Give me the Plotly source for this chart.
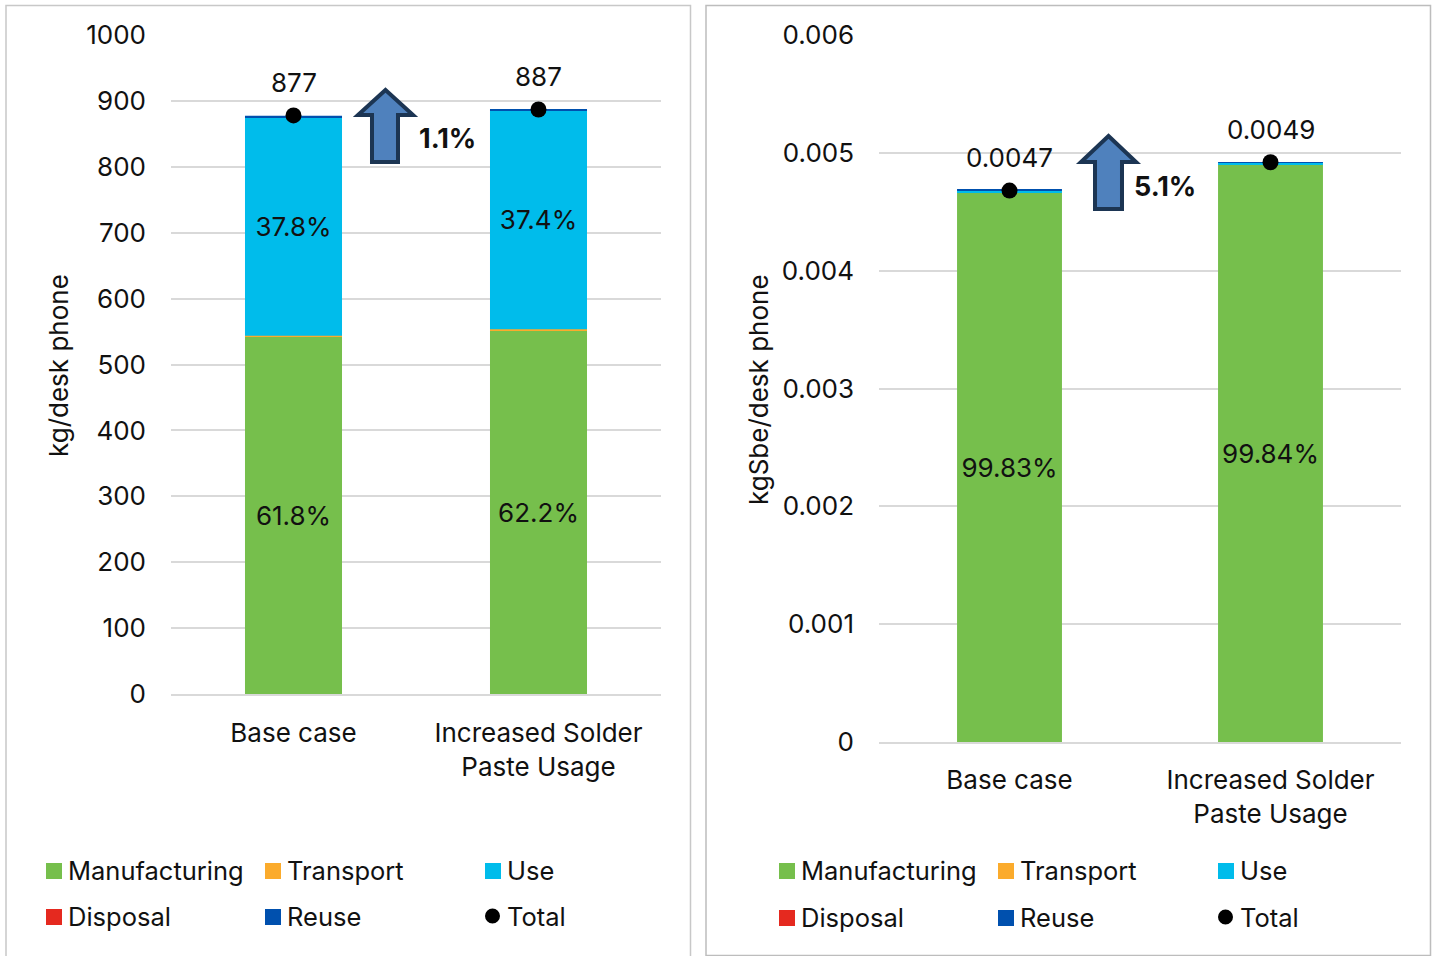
import plotly.graph_objects as go

W, H = 1435, 956
FONT = "Inter"
FS = 26
LEGEND_FS = 25.5
INK = "#111111"

categories = ["Base case", "Increased Solder<br>Paste Usage"]
series_names = ["Manufacturing", "Transport", "Use", "Disposal", "Reuse"]
series_colors = ["#76BF4C", "#FBAB2C", "#00BCEB", "#E5291F", "#0050AE"]

left_manufacturing = [542, 552]
left_transport = [1.5, 1.5]
left_use = [332, 332]
left_disposal = [-1.5, -1.5]
left_reuse = [2, 2]
left_total = [878, 887]
left_total_labels = ["877", "887"]
left_use_labels = ["37.8%", "37.4%"]
left_mfg_labels = ["61.8%", "62.2%"]

right_manufacturing = [0.004665, 0.00490]
right_transport = [0.000002, 0.000002]
right_use = [0.000012, 0.000012]
right_disposal = [-0.000012, -0.000012]
right_reuse = [0.000006, 0.000006]
right_total = [0.00468, 0.00492]
right_total_labels = ["0.0047", "0.0049"]
right_mfg_labels = ["99.83%", "99.84%"]

left_ticks = [0, 100, 200, 300, 400, 500, 600, 700, 800, 900, 1000]
right_ticks = [0, 0.001, 0.002, 0.003, 0.004, 0.005, 0.006]
right_ticktext = ["0", "0.001", "0.002", "0.003", "0.004", "0.005", "0.006"]


def fx(px):
    return px / W


def fy(px):
    return 1 - px / H


fig = go.Figure()


def add_stack(xa, ya, values, labels, bar_width):
    for name, color, vals in zip(series_names, series_colors, values):
        txt = labels.get(name)
        fig.add_trace(go.Bar(
            x=categories, y=vals, name=name, xaxis=xa, yaxis=ya, width=bar_width,
            marker=dict(color=color, line=dict(width=0)),
            text=txt, textposition="inside" if txt else "none",
            insidetextanchor="middle", constraintext="none", textangle=0,
            insidetextfont=dict(family=FONT, size=FS, color=INK),
            cliponaxis=False, showlegend=False, hoverinfo="skip",
        ))


add_stack("x", "y",
          [left_manufacturing, left_transport, left_use, left_disposal, left_reuse],
          {"Manufacturing": left_mfg_labels, "Use": left_use_labels}, 0.396)
add_stack("x2", "y2",
          [right_manufacturing, right_transport, right_use, right_disposal, right_reuse],
          {"Manufacturing": right_mfg_labels}, 0.402)

for xa, ya, tot in (("x", "y", left_total), ("x2", "y2", right_total)):
    fig.add_trace(go.Scatter(
        x=categories, y=tot, mode="markers", name="Total", xaxis=xa, yaxis=ya,
        marker=dict(color="#000000", size=16), cliponaxis=False,
        showlegend=False, hoverinfo="skip",
    ))

annotations = []
for xr, yr, tot, labs in (("x", "y", left_total, left_total_labels),
                          ("x2", "y2", right_total, right_total_labels)):
    for c, t, l in zip(categories, tot, labs):
        annotations.append(dict(x=c, y=t, xref=xr, yref=yr, text=l, showarrow=False,
                                yshift=33, font=dict(family=FONT, size=FS, color=INK)))

shapes = []
# panel frames
shapes.append(dict(type="rect", xref="paper", yref="paper",
                   x0=fx(6), x1=fx(690.5), y0=fy(962), y1=fy(5.5),
                   line=dict(color="#C8C8C8", width=1.5), fillcolor="rgba(0,0,0,0)", layer="below"))
shapes.append(dict(type="rect", xref="paper", yref="paper",
                   x0=fx(706), x1=fx(1430.5), y0=fy(955.5), y1=fy(5.5),
                   line=dict(color="#BDBDBD", width=1.5), fillcolor="rgba(0,0,0,0)", layer="below"))


def arrow(xl, xr, xsl, xsr, ytip, ywing, ybot):
    xc = (xl + xr) / 2
    pts = [(xc, ytip), (xr, ywing), (xsr, ywing), (xsr, ybot), (xsl, ybot), (xsl, ywing), (xl, ywing)]
    d = "M" + " L".join(f"{fx(a):.5f},{fy(b):.5f}" for a, b in pts) + " Z"
    return dict(type="path", xref="paper", yref="paper", path=d,
                fillcolor="#4F81BD", line=dict(color="#1C3553", width=4))


shapes.append(arrow(358, 413, 372, 398, 90, 115, 162))
shapes.append(arrow(1081, 1136, 1095, 1122, 136, 162, 209))

# call-out percentages
for txt, x, y in (("1.1%", 447, 138), ("5.1%", 1165, 186)):
    annotations.append(dict(x=fx(x), y=fy(y), xref="paper", yref="paper", text=f"<b>{txt}</b>",
                            xanchor="center", yanchor="middle",
                            showarrow=False, font=dict(family=FONT, size=27, color=INK)))

# hand-placed legends
swatch_colors = dict(zip(series_names, series_colors))
legend_rows = [["Manufacturing", "Transport", "Use"], ["Disposal", "Reuse", "Total"]]
for col_x, row_y in (((46, 265, 485), (871, 917)), ((779, 998, 1218), (871, 918))):
    for r, row in enumerate(legend_rows):
        for c, name in enumerate(row):
            x0, yc = col_x[c], row_y[r]
            if name == "Total":
                shapes.append(dict(type="circle", xref="paper", yref="paper",
                                   x0=fx(x0), x1=fx(x0 + 15), y0=fy(yc - 1 + 7.5), y1=fy(yc - 1 - 7.5),
                                   fillcolor="#000000", line=dict(width=0)))
            else:
                shapes.append(dict(type="rect", xref="paper", yref="paper",
                                   x0=fx(x0), x1=fx(x0 + 16), y0=fy(yc + 8), y1=fy(yc - 8),
                                   fillcolor=swatch_colors[name], line=dict(width=0)))
            annotations.append(dict(x=fx(x0 + 20), y=fy(yc - 1), xref="paper", yref="paper", text=name,
                                    xanchor="left", yanchor="middle", showarrow=False,
                                    font=dict(family=FONT, size=LEGEND_FS, color=INK)))

# axis titles
annotations.append(dict(x=fx(58), y=fy(366), xref="paper", yref="paper", text="kg/desk phone",
                        xanchor="center", yanchor="middle",
                        textangle=-90, showarrow=False, font=dict(family=FONT, size=FS, color=INK)))
annotations.append(dict(x=fx(758), y=fy(389), xref="paper", yref="paper", text="kgSbe/desk phone",
                        xanchor="center", yanchor="middle",
                        textangle=-90, showarrow=False, font=dict(family=FONT, size=FS, color=INK)))

axis_font = dict(family=FONT, size=FS, color=INK)
grid = dict(showgrid=True, gridcolor="#D9D9D9", gridwidth=1.5, zeroline=False, showline=False,
            ticks="", automargin=False)

fig.update_layout(
    width=W, height=H, autosize=False,
    margin=dict(l=0, r=0, t=0, b=0),
    paper_bgcolor="white", plot_bgcolor="white",
    barmode="relative", bargap=0.6,
    font=dict(family=FONT, size=FS, color=INK),
    showlegend=False, shapes=shapes, annotations=annotations,
    xaxis=dict(domain=[fx(171), fx(661)], type="category", anchor="y", showgrid=False, automargin=False,
               zeroline=False, showline=True, linecolor="#D9D9D9", linewidth=1.5, ticks="",
               layer="below traces", tickfont=axis_font, ticklabelstandoff=15),
    yaxis=dict(domain=[fy(694), fy(35)], range=[0, 1000], tickvals=left_ticks, anchor="x",
               tickfont=axis_font, ticklabelstandoff=24, **grid),
    xaxis2=dict(domain=[fx(879), fx(1401)], type="category", anchor="y2", showgrid=False, automargin=False,
                zeroline=False, showline=True, linecolor="#D9D9D9", linewidth=1.5, ticks="",
                layer="below traces", tickfont=axis_font, ticklabelstandoff=14),
    yaxis2=dict(domain=[fy(742), fy(35)], range=[0, 0.006], tickvals=right_ticks, ticktext=right_ticktext,
                anchor="x2", tickfont=axis_font, ticklabelstandoff=24, **grid),
)

fig.write_html("out.html", config=dict(displayModeBar=False),
               post_script="document.body.style.margin='0';document.body.style.overflow='hidden';")
